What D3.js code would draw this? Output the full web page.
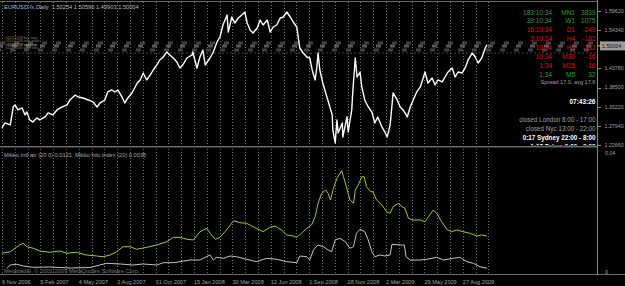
<!DOCTYPE html>
<html>
<head>
<meta charset="utf-8">
<script src="https://cdn.jsdelivr.net/npm/d3@7"></script>
<style>
  html, body { margin: 0; padding: 0; background: #000; }
  svg { display: block; }
  text { font-family: "Liberation Sans", Arial, sans-serif; }
</style>
</head>
<body>
<svg id="chart" width="625" height="286"></svg>
<script>
// ---- data ----
const dateLabels = ["6 Nov 2006", "5 Feb 2007", "4 May 2007", "2 Aug 2007", "31 Oct 2007", "15 Jan 2008",
  "30 Mar 2008", "12 Jun 2008", "1 Sep 2008", "28 Nov 2008", "2 Mar 2009", "29 May 2009", "27 Aug 2009"];
const barsPerLabel = 65;

const priceTicks = [1.5962, 1.5434, 1.4378, 1.3850, 1.3322, 1.2794, 1.2266];
const lastPrice = 1.50004;

// [bar index, close]
const eurusd = [[0,1.2736],[5,1.2874],[14,1.2819],[19,1.3315],[22,1.3370],[27,1.3233],[34,1.3288],[39,1.3095],
  [42,1.3177],[47,1.2957],[52,1.2902],[59,1.3012],[64,1.2957],[73,1.3040],[78,1.3150],[86,1.3095],[93,1.3233],
  [102,1.3315],[110,1.3370],[115,1.3508],[124,1.3646],[129,1.3591],[137,1.3563],[146,1.3508],[154,1.3453],
  [161,1.3315],[166,1.3426],[174,1.3508],[179,1.3729],[186,1.3784],[191,1.3729],[196,1.3784],[203,1.3591],
  [208,1.3426],[213,1.3563],[220,1.3701],[229,1.3977],[234,1.4060],[239,1.4253],[245,1.4060],[251,1.4198],
  [256,1.4335],[262,1.4473],[267,1.4611],[273,1.4694],[279,1.4832],[284,1.4749],[290,1.4666],[296,1.4556],
  [301,1.4391],[306,1.4473],[313,1.4666],[322,1.4749],[323,1.4832],[330,1.4391],[335,1.4694],[340,1.4887],
  [344,1.4473],[352,1.4666],[357,1.4804],[364,1.5107],[369,1.5245],[374,1.5576],[381,1.5852],[383,1.5383],
  [389,1.5797],[394,1.5631],[400,1.5769],[406,1.5852],[411,1.5934],[415,1.5631],[420,1.5438],[425,1.5355],
  [432,1.5493],[437,1.5714],[442,1.5576],[449,1.5714],[454,1.5383],[459,1.5521],[465,1.5576],[471,1.5769],
  [476,1.5797],[482,1.5934],[488,1.5797],[493,1.5659],[499,1.5521],[504,1.4942],[510,1.4804],[516,1.4694],
  [521,1.4666],[525,1.4335],[530,1.4060],[533,1.4418],[535,1.4804],[538,1.4335],[543,1.3977],[550,1.3591],
  [555,1.3315],[559,1.3095],[560,1.2681],[564,1.2323],[567,1.2957],[569,1.2598],[576,1.2874],[577,1.2488],
  [584,1.3040],[586,1.2626],[592,1.3233],[594,1.3784],[598,1.4666],[601,1.4142],[606,1.4280],[609,1.3867],
  [611,1.3729],[614,1.3508],[620,1.3315],[626,1.3177],[631,1.2874],[636,1.3040],[643,1.2764],[648,1.2626],
  [652,1.2488],[657,1.2819],[662,1.3701],[669,1.3508],[674,1.3315],[679,1.3233],[686,1.3040],[691,1.3315],
  [696,1.3508],[702,1.3729],[708,1.3867],[713,1.4115],[716,1.4280],[721,1.3977],[728,1.4115],[733,1.3922],
  [738,1.4060],[745,1.4005],[750,1.4142],[755,1.4280],[762,1.4391],[767,1.4142],[772,1.4280],[779,1.4253],
  [784,1.4391],[789,1.4611],[796,1.4804],[801,1.4694],[806,1.4528],[812,1.4666],[818,1.4942],[821,1.5025]];

// Mikko mtf atr (green)
const atr = [[0,0.00629],[14,0.00682],[22,0.00797],[30,0.00908],[36,0.00965],[42,0.00850],[53,0.00797],
  [64,0.00706],[81,0.00662],[98,0.00706],[110,0.00629],[126,0.00662],[143,0.00571],[160,0.00538],[171,0.00514],
  [183,0.00571],[194,0.00682],[205,0.00850],[217,0.00850],[228,0.00763],[245,0.00830],[262,0.00908],
  [279,0.01018],[290,0.01166],[301,0.01166],[313,0.01099],[324,0.01076],[335,0.01355],[347,0.01469],
  [352,0.01301],[361,0.01099],[369,0.01166],[380,0.01412],[392,0.01724],[403,0.01657],[414,0.01637],
  [425,0.01523],[442,0.01355],[454,0.01503],[462,0.01546],[473,0.01412],[482,0.01244],[493,0.01210],
  [499,0.01166],[507,0.01301],[516,0.01469],[524,0.01580],[530,0.01859],[535,0.02309],[541,0.02645],
  [548,0.02756],[552,0.02645],[556,0.02420],[561,0.02813],[567,0.03150],[575,0.03405],[578,0.03203],
  [583,0.02867],[589,0.02420],[595,0.02309],[598,0.02756],[603,0.02924],[609,0.03203],[613,0.03203],
  [617,0.02867],[624,0.02699],[628,0.02699],[634,0.02420],[643,0.02252],[651,0.02027],[657,0.01973],
  [662,0.02195],[671,0.02309],[677,0.02195],[682,0.02141],[688,0.01805],[696,0.01748],[708,0.01748],
  [716,0.01691],[722,0.01859],[730,0.02084],[736,0.01973],[744,0.01691],[753,0.01435],[761,0.01355],
  [770,0.01412],[781,0.01355],[792,0.01301],[804,0.01210],[812,0.01244],[821,0.01210]];

// Mikko hilo index (silver)
const hilo = [[8,0.00124],[14,0.00235],[25,0.00259],[36,0.00202],[53,0.00158],[81,0.00168],[115,0.00134],
  [149,0.00151],[177,0.00292],[200,0.00269],[222,0.00235],[239,0.00269],[262,0.00235],[273,0.00313],
  [290,0.00313],[301,0.00346],[318,0.00403],[335,0.00403],[352,0.00571],[358,0.00403],[363,0.00494],
  [375,0.00461],[386,0.00538],[397,0.00514],[414,0.00427],[431,0.00346],[448,0.00461],[465,0.00427],
  [482,0.00346],[499,0.00313],[504,0.00538],[516,0.00514],[521,0.00403],[527,0.00739],[535,0.00908],
  [544,0.00850],[552,0.00739],[558,0.00682],[564,0.01076],[572,0.01133],[581,0.01018],[589,0.00797],
  [595,0.00850],[600,0.01301],[606,0.01435],[614,0.01355],[620,0.01076],[626,0.00682],[631,0.00514],
  [640,0.00571],[648,0.00538],[657,0.00571],[660,0.00931],[674,0.00908],[681,0.00908],[684,0.00514],
  [691,0.00403],[708,0.00403],[719,0.00427],[736,0.00494],[747,0.00403],[764,0.00461],[775,0.00494],
  [787,0.00346],[798,0.00292],[809,0.00178],[821,0.00124]];
const indTicks = [0.04, 0];

// pending orders
const orderLevels = [1.5080, 1.4997, 1.4887, 1.4804];
const orderNames = ["#42011208 buy stop", "#42011208 take profit", "#42011209 sell stop", "#42011209 stop loss"];

// timer panel
const timerLeft = ["183:10:34", "39:10:34", "16:10:34", "3:10:34", "10:34", "10:34", "1:34", "1:34"];
const timerFrames = ["MN1", "W1", "D1", "H4", "H1", "M30", "M15", "M5"];
const timerPips = [3839, 1075, -249, -182, -182, -16, -16, 32];
const sessions = ["closed London 8:00 - 17:00", "closed Nyc 13:00 - 22:00", "0:17 Sydney 22:00 - 8:00", "1:17 Tokyo 0:00 - 9:00"];
const sessionOpen = [false, false, true, true];

// ---- layout ----
const axisX = 597;
const green = "#25a325", red = "#e01414", grey = "#a0a0a0";

const svg = d3.select("#chart");
svg.append("rect").attr("width", 625).attr("height", 286).attr("fill", "#000");

const x = d3.scaleLinear().domain([0, barsPerLabel]).range([2, 40.4]);
const yPrice = d3.scaleLinear().domain([1.2266, 1.5962]).range([145, 11]);
const yInd = d3.scaleLinear().domain([0, 0.04]).range([272, 153]);

const defs = svg.append("defs");
defs.append("clipPath").attr("id", "clipPrice").append("rect")
  .attr("x", 0).attr("y", 2).attr("width", axisX).attr("height", 143.5);
defs.append("clipPath").attr("id", "clipInd").append("rect")
  .attr("x", 0).attr("y", 148).attr("width", axisX).attr("height", 126);

// vertical dotted grid
const gridBars = d3.range(0, 39).map(k => k * barsPerLabel / 3);
svg.append("g").selectAll("line").data(gridBars).join("line")
  .attr("x1", d => Math.round(x(d)) + 0.5).attr("x2", d => Math.round(x(d)) + 0.5)
  .attr("y1", 2).attr("y2", 274)
  .attr("stroke", "#6e6e6e").attr("stroke-dasharray", "1,2");

// pane borders
svg.append("line").attr("x1", 0).attr("x2", axisX).attr("y1", 1.5).attr("y2", 1.5).attr("stroke", "#6a6a6a");
svg.append("line").attr("x1", 0).attr("x2", axisX).attr("y1", 146.5).attr("y2", 146.5).attr("stroke", "#6a6a6a");
svg.append("line").attr("x1", 0).attr("x2", axisX).attr("y1", 147.5).attr("y2", 147.5).attr("stroke", "#333");
svg.append("line").attr("x1", 0).attr("x2", axisX + 28).attr("y1", 274.5).attr("y2", 274.5).attr("stroke", "#6a6a6a");
svg.append("line").attr("x1", axisX + 0.5).attr("x2", axisX + 0.5).attr("y1", 0).attr("y2", 275).attr("stroke", "#8a8a8a");

// order lines
const pg = svg.append("g").attr("clip-path", "url(#clipPrice)");
pg.selectAll("line.order").data(orderLevels).join("line")
  .attr("class", "order")
  .attr("x1", 0).attr("x2", axisX)
  .attr("y1", d => yPrice(d)).attr("y2", d => yPrice(d))
  .attr("stroke", (d, i) => i === 1 ? "#585858" : "#424242")
  .attr("stroke-width", (d, i) => i === 3 ? 1 : 3)
  .attr("stroke-dasharray", (d, i) => i === 3 ? "2,2" : "5,9")
  .attr("stroke-dashoffset", (d, i) => i * 2);

pg.selectAll("text.order").data(orderNames).join("text")
  .attr("class", "order")
  .attr("x", 5).attr("y", (d, i) => yPrice(orderLevels[i]) - 5.5)
  .attr("dy", "0.35em")
  .attr("font-size", 3.6)
  .attr("fill", (d, i) => i === 2 ? "#bdbdbd" : "#7a7a7a")
  .text(d => d);

// price line
pg.append("path").datum(eurusd)
  .attr("fill", "none").attr("stroke", "#fff").attr("stroke-width", 1.4)
  .attr("stroke-linejoin", "round")
  .attr("d", d3.line().x(d => x(d[0])).y(d => yPrice(d[1])));

// title
svg.append("text").attr("x", 4).attr("y", 8.5).attr("font-size", 5.7).attr("fill", "#b8b8b8")
  .attr("xml:space", "preserve")
  .text("EURUSD-fx,Daily  1.50254 1.50596 1.49903 1.50004");

// timer panel
const tp = pg.append("g").attr("font-size", 6.5);
timerLeft.forEach((t, i) => {
  const yy = 12.3 + i * 8.9;
  const c = timerPips[i] >= 0 ? green : red;
  tp.append("text").attr("x", 552).attr("y", yy).attr("dy", "0.35em").attr("text-anchor", "end").attr("fill", c).text(t);
  tp.append("text").attr("x", 575).attr("y", yy).attr("dy", "0.35em").attr("text-anchor", "end").attr("fill", c).text(timerFrames[i]);
  tp.append("text").attr("x", 595.5).attr("y", yy).attr("dy", "0.35em").attr("text-anchor", "end").attr("fill", c).text(timerPips[i]);
});
tp.append("text").attr("x", 595.5).attr("y", 82).attr("dy", "0.35em").attr("text-anchor", "end")
  .attr("font-size", 5.6).attr("fill", grey).text("Spread 17.0, avg 17.6");
tp.append("text").attr("x", 595.5).attr("y", 101.7).attr("dy", "0.35em").attr("text-anchor", "end")
  .attr("font-weight", "bold").attr("fill", "#fff").text("07:43:26");
sessions.forEach((s, i) => {
  tp.append("text").attr("x", 595.5).attr("y", 119.3 + i * 9).attr("dy", "0.35em").attr("text-anchor", "end")
    .attr("font-size", 6.3)
    .attr("font-weight", sessionOpen[i] ? "bold" : "normal")
    .attr("fill", sessionOpen[i] ? "#fff" : grey).text(s);
});

// price axis labels
const ax = svg.append("g").attr("font-size", 5.3);
priceTicks.forEach(v => {
  ax.append("line").attr("x1", axisX + 1).attr("x2", axisX + 4).attr("y1", Math.round(yPrice(v)) + 0.5)
    .attr("y2", Math.round(yPrice(v)) + 0.5).attr("stroke", "#8a8a8a");
  ax.append("text").attr("x", 604.5).attr("y", yPrice(v)).attr("dy", "0.35em").attr("fill", grey).text(v.toFixed(5));
});
ax.append("rect").attr("x", 600).attr("y", yPrice(lastPrice) - 4.5).attr("width", 25).attr("height", 9).attr("fill", "#9a9a9a");
ax.append("line").attr("x1", axisX + 1).attr("x2", axisX + 4).attr("y1", yPrice(lastPrice)).attr("y2", yPrice(lastPrice))
  .attr("stroke", "#e0d000");
ax.append("text").attr("x", 602).attr("y", yPrice(lastPrice)).attr("dy", "0.35em").attr("fill", "#111").text(lastPrice.toFixed(5));

// indicator pane
const ig = svg.append("g").attr("clip-path", "url(#clipInd)");
ig.append("path").datum(hilo)
  .attr("fill", "none").attr("stroke", "#c4c4c4").attr("stroke-width", 1)
  .attr("d", d3.line().x(d => x(d[0])).y(d => yInd(d[1])));
ig.append("path").datum(atr)
  .attr("fill", "none").attr("stroke", "#9acd32").attr("stroke-width", 1)
  .attr("d", d3.line().x(d => x(d[0])).y(d => yInd(d[1])));

svg.append("text").attr("x", 4).attr("y", 156.5).attr("font-size", 5.7).attr("fill", "#a8a8a8")
  .attr("xml:space", "preserve")
  .text("Mikko mtf atr (20 0) 0.0121  Mikko hilo index (20) 0.0035");
svg.append("text").attr("x", 4).attr("y", 273).attr("font-size", 5.7).attr("fill", "#7a7a7a")
  .text("Metatrader, \u00a9 2001-2009 MetaQuotes Software Corp.");

indTicks.forEach(v => {
  ax.append("text").attr("x", 605).attr("y", yInd(v)).attr("dy", "0.35em").attr("fill", grey)
    .text(v === 0 ? "0" : v.toFixed(2));
});

// date axis
svg.append("g").selectAll("text").data(dateLabels).join("text")
  .attr("x", (d, i) => x(i * barsPerLabel))
  .attr("y", 283.5)
  .attr("font-size", 5.6).attr("fill", grey)
  .text(d => d);
</script>
</body>
</html>
